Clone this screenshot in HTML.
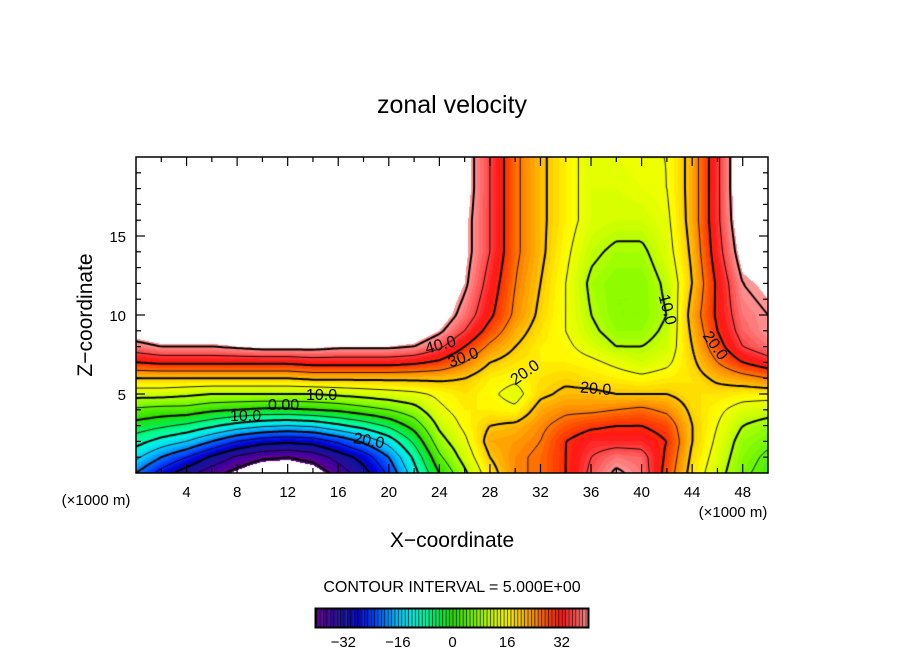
<!DOCTYPE html>
<html><head><meta charset="utf-8"><style>
body{margin:0;background:#fff;}
#wrap{position:relative;width:904px;height:654px;overflow:hidden;font-family:"Liberation Sans",sans-serif;}
canvas{position:absolute;}
svg{position:absolute;left:0;top:0;}
</style></head><body>
<div id="wrap">
<canvas id="field" width="632" height="316" style="left:136px;top:157px"></canvas>
<canvas id="cbar" width="274" height="20" style="left:315px;top:608px"></canvas>
<svg id="svg" width="904" height="654">
<text x="452" y="113" font-size="25" text-anchor="middle">zonal velocity</text>
<text x="452" y="547" font-size="21" text-anchor="middle">X−coordinate</text>
<text x="0" y="0" font-size="21" text-anchor="middle" transform="translate(92,315) rotate(-90)">Z−coordinate</text>
<text x="96" y="505" font-size="15" text-anchor="middle">(×1000 m)</text>
<text x="733" y="517" font-size="15" text-anchor="middle">(×1000 m)</text>
<text x="452" y="592" font-size="16" text-anchor="middle">CONTOUR INTERVAL = 5.000E+00</text>
<g id="labels" font-size="16" fill="#000">
<text x="425" y="350" transform="rotate(-15 440 345)">40.0</text>
<text x="448" y="362" transform="rotate(-20 465 358)">30.0</text>
<text x="508" y="377" transform="rotate(-35 525 370)">20.0</text>
<text x="580" y="394" transform="rotate(5 598 390)">20.0</text>
<text x="640" y="300" transform="rotate(75 652 310)">10.0</text>
<text x="690" y="345" transform="rotate(55 705 352)">20.0</text>
<text x="306" y="400">10.0</text>
<text x="268" y="410">0.00</text>
<text x="230" y="421">10.0</text>
<text x="353" y="446" transform="rotate(10 370 442)">20.0</text>
</g>
<rect x="136" y="157" width="632" height="316" fill="none" stroke="#000" stroke-width="1.5"/>
<g id="ticks"></g>
<rect x="315.5" y="608.5" width="273" height="19" fill="none" stroke="#000" stroke-width="2"/>
<g id="cbticks" font-size="15"></g>
</svg>
</div>
<script>
const xs=[0,2,4,6,8,10,12,14,16,18,20,22,24,26,28,30,32,34,36,38,40,42,44,46,48,50];
const zs=[0,1,2,3,4,5,6,7,8,9,10,12,14,16,18,20];
const col0=[-20,-14,-8,-2,4,12,20,30,38,44,48,48,48,48,48,48];
const col2=[-27,-20,-12,-4,3,12,20,31,40,46,48,48,48,48,48,48];
const col4=[-33,-25,-15,-6,3,11,20,31,40,46,48,48,48,48,48,48];
const col6=[-38,-31,-20,-9,1,10,20,31,40,46,48,48,48,48,48,48];
const col8=[-42,-36,-25,-12,0,10,20,31,41,46,48,48,48,48,48,48];
const col10=[-46,-39,-28,-14,-1,10,20,31,42,47,48,48,48,48,48,48];
const col12=[-46,-40,-29,-15,-1,10,20,31,42,47,48,48,48,48,48,48];
const col14=[-44,-38,-28,-14,0,10,21,32,42,47,48,48,48,48,48,48];
const col16=[-38,-33,-24,-11,1,11,21,32,41,47,48,48,48,48,48,48];
const col18=[-32,-28,-19,-8,3,12,21,32,41,47,48,48,48,48,48,48];
const col20=[-24,-20,-13,-4,5,13,21,32,41,46,48,48,48,48,48,48];
const col22=[-12,-9,-4,2,8,14,21,31,40,45,47,48,48,48,48,48];
const col24=[0,4,8,11,14,16,21,29,36,41,44,46,47,47,47,47];
const col26=[9,12,14,16,17,18,20,25,30,35,38,41,42,42,43,43];
const col28=[18,20,22,20,17,16,17,20,24,28,31,33,35,35,35,35];
const col30=[24,24,23,21,16,13,16,18,20,22,24,25,26,26,26,26];
const col32=[26,26,25,24,22,19,18,17,17,18,19,20,21,21,21,21];
const col34=[30,30,30,27,24,21,19,17,16,15,15,15,16,17,17,17];
const col36=[36,35,33,29,24,21,18,16,13,11,10,9,11,13,13,13];
const col38=[41,38,33,30,25,20,17,14,10,8,7,7,9,12,13,14];
const col40=[38,37,33,30,26,20,16,12,10,8,7,7,9,12,14,15];
const col42=[28,29,30,28,24,20,17,14,12,11,10,11,13,14,15,15];
const col44=[18,19,20,20,19,18,18,19,20,21,22,20,21,22,22,22];
const col46=[12,13,14,15,16,18,21,25,28,30,31,31,33,34,34,34];
const col48=[6,7,8,10,13,17,23,30,35,37,38,40,43,45,46,46];
const col50=[3,4,6,8,12,17,25,33,38,40,40,42,46,47,48,48];
const cols=[col0,col2,col4,col6,col8,col10,col12,col14,col16,col18,col20,col22,col24,col26,col28,col30,col32,col34,col36,col38,col40,col42,col44,col46,col48,col50];
const levels=[-40,-35,-30,-25,-20,-15,-10,-5,0,5,10,15,20,25,30,35,40];
const cbTicks=[-32,-16,0,16,32];
const xTicks=[4,8,12,16,20,24,28,32,36,40,44,48];
const zTicks=[5,10,15];

const X0=136,Y0=473,PX=632/50,PZ=316/20;
const sx=x=>X0+x*PX, sz=z=>Y0-z*PZ;
function idx(a,v){for(let i=0;i<a.length-2;i++){if(v<a[i+1])return i;}return a.length-2;}
function f(x,z){const i=idx(xs,x),j=idx(zs,z);const tx=(x-xs[i])/(xs[i+1]-xs[i]),tz=(z-zs[j])/(zs[j+1]-zs[j]);
const a=cols[i][j],b=cols[i+1][j],c=cols[i][j+1],d=cols[i+1][j+1];
return a*(1-tx)*(1-tz)+b*tx*(1-tz)+c*(1-tx)*tz+d*tx*tz;}
const stops=[[-40,96,0,144],[-36,60,0,160],[-32,20,20,150],[-28,0,0,205],[-24,0,50,255],[-20,0,120,255],[-16,0,200,255],[-12,0,240,230],[-8,0,255,160],[-4,0,240,80],[0,40,220,0],[4,90,240,0],[8,150,255,0],[12,210,255,0],[16,255,255,0],[20,255,200,0],[24,255,140,0],[28,255,70,0],[32,255,20,20],[36,255,80,80],[40,255,150,150]];
function cmap(v){if(v<=-40)return stops[0].slice(1);for(let i=0;i<stops.length-1;i++){if(v<=stops[i+1][0]){const t=(v-stops[i][0])/(stops[i+1][0]-stops[i][0]);return [0,1,2].map(k=>Math.round(stops[i][k+1]+(stops[i+1][k+1]-stops[i][k+1])*t));}}return stops[stops.length-1].slice(1);}
const cv=document.getElementById('field'),ctx=cv.getContext('2d');
const W=632,H=316,img=ctx.createImageData(W,H);
for(let py=0;py<H;py++)for(let px=0;px<W;px++){
 const x=(px+0.5)/PX,z=(H-py-0.5)/PZ;const v=f(x,z);const o=(py*W+px)*4;
 if(v>41||v<-41){img.data[o]=255;img.data[o+1]=255;img.data[o+2]=255;img.data[o+3]=255;continue;}
 const c=cmap(Math.floor(v)+0.5);img.data[o]=c[0];img.data[o+1]=c[1];img.data[o+2]=c[2];img.data[o+3]=255;}
ctx.putImageData(img,0,0);
const S=3,nx=Math.ceil(W/S)+1,nz=Math.ceil(H/S)+1,G=[];
for(let i=0;i<nx;i++){G[i]=[];for(let j=0;j<nz;j++){G[i][j]=f(Math.min(i*S,W)/PX,Math.max(H-j*S,0)/PZ);}}
levels.forEach(L=>{
 ctx.beginPath();
 for(let i=0;i<nx-1;i++)for(let j=0;j<nz-1;j++){
  const p=[[i,j],[i+1,j],[i+1,j+1],[i,j+1]];const pts=[];
  for(let k=0;k<4;k++){const a=p[k],b=p[(k+1)%4];const va=G[a[0]][a[1]]-L,vb=G[b[0]][b[1]]-L;
   if((va<0)!==(vb<0)){const t=va/(va-vb);pts.push([(a[0]+(b[0]-a[0])*t)*S,(a[1]+(b[1]-a[1])*t)*S]);}}
  for(let k=0;k+1<pts.length;k+=2){ctx.moveTo(pts[k][0],pts[k][1]);ctx.lineTo(pts[k+1][0],pts[k+1][1]);}
 }
 ctx.strokeStyle='#000';ctx.lineWidth=(L%10===0)?2:0.9;
 ctx.setLineDash(L<0?[6,4]:[]);ctx.stroke();
});
const cb=document.getElementById('cbar'),cc=cb.getContext('2d');
const cw=273/80;
for(let k=0;k<80;k++){const c=cmap(-40+k+0.5);cc.fillStyle='rgb('+c.join(',')+')';cc.fillRect(1+k*cw,1,cw,18);
 cc.fillStyle='#000';cc.fillRect(1+k*cw,1,0.8,18);}
const NS='http://www.w3.org/2000/svg';
const cbt=document.getElementById('cbticks');
cbTicks.forEach(v=>{const t=document.createElementNS(NS,'text');t.setAttribute('x',316+(v+40)*cw);t.setAttribute('y',647);t.setAttribute('text-anchor','middle');t.textContent=(v<0?'−':'')+Math.abs(v);


cbt.appendChild(t);});
const tg=document.getElementById('ticks');
function line(x1,y1,x2,y2,w){const l=document.createElementNS(NS,'line');l.setAttribute('x1',x1);l.setAttribute('y1',y1);l.setAttribute('x2',x2);l.setAttribute('y2',y2);l.setAttribute('stroke','#000');l.setAttribute('stroke-width',w||1);


tg.appendChild(l);}
for(let x=2;x<50;x+=2){const len=(x%4===0)?9:5;line(sx(x),Y0,sx(x),Y0-len,1.2);line(sx(x),157,sx(x),157+len,1.2);}
for(let z=1;z<20;z++){const len=(z%5===0)?9:5;line(X0,sz(z),X0+len,sz(z),1.2);line(768,sz(z),768-len,sz(z),1.2);}
xTicks.forEach(x=>{const t=document.createElementNS(NS,'text');t.setAttribute('x',sx(x));t.setAttribute('y',497);t.setAttribute('text-anchor','middle');t.setAttribute('font-size','15');t.textContent=x;


tg.appendChild(t);});
zTicks.forEach(z=>{const t=document.createElementNS(NS,'text');t.setAttribute('x',126);t.setAttribute('y',sz(z)+6);t.setAttribute('text-anchor','end');t.setAttribute('font-size','15');t.textContent=z;


tg.appendChild(t);});
</script>
</body></html>
